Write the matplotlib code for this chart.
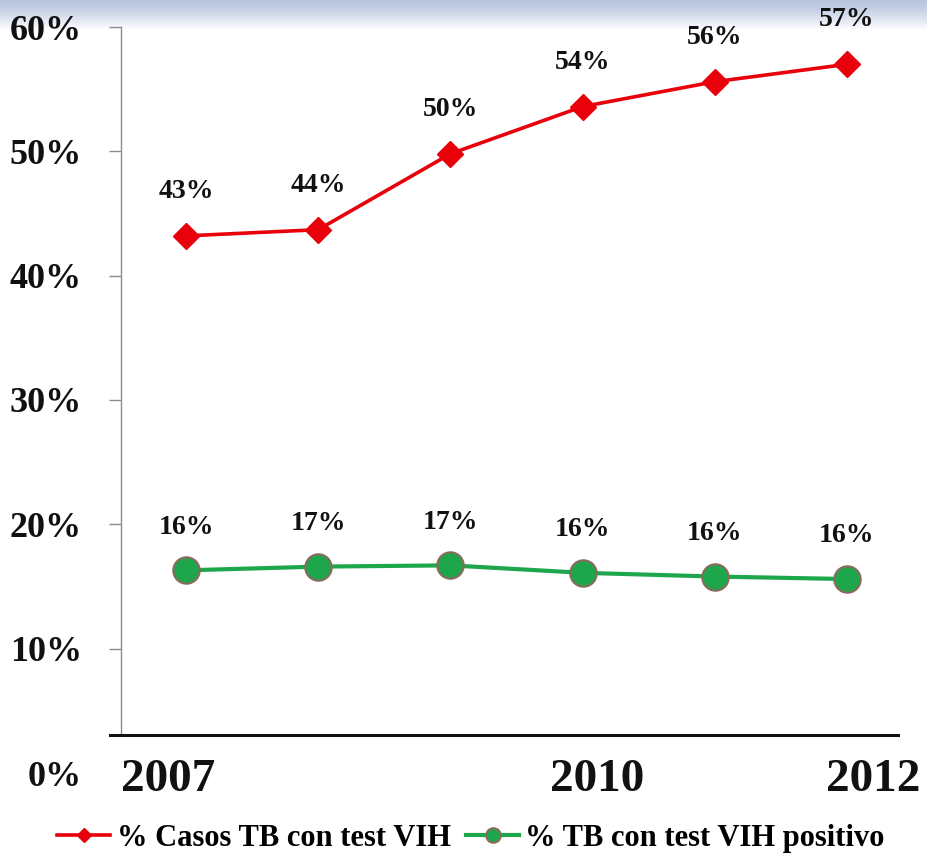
import numpy as np
import matplotlib.pyplot as plt
from matplotlib.transforms import ScaledTranslation

years = [2007, 2008, 2009, 2010, 2011, 2012]
year_labels = ['2007', '', '', '2010', '', '2012']
casos_test = [43.2, 43.7, 49.8, 53.6, 55.6, 57.0]      # % Casos TB con test VIH
test_positivo = [16.3, 16.6, 16.7, 16.1, 15.8, 15.6]   # % TB con test VIH positivo
y_ticks = [0, 10, 20, 30, 40, 50, 60]

plt.rcParams['font.family'] = ['Liberation Serif', 'DejaVu Serif']
plt.rcParams['font.weight'] = 'bold'

W, H = 927, 855
fig = plt.figure(figsize=(W / 100, H / 100), dpi=100)

# light blue band at the top of the slide
bg = fig.add_axes([0, 1 - 30 / H, 1, 30 / H], zorder=0)
grad = np.linspace(0, 1, 64).reshape(-1, 1)
top_col = np.array([0.72, 0.77, 0.87])
img = top_col + (1 - top_col) * grad[..., None] ** 1.3
bg.imshow(np.repeat(img, 2, axis=1), aspect='auto', extent=[0, 1, 0, 1])
bg.axis('off')

ax = fig.add_axes([110 / W, 1 - 773 / H, 788 / W, (773 - 27) / H], zorder=1)
ax.patch.set_visible(False)

red = '#e8000b'
green = '#1ea64c'
ax.plot(years, casos_test, color=red, lw=2.6, marker='D', ms=13.5,
        mfc=red, mec=red, label='% Casos TB con test VIH', zorder=3)
ax.plot(years, test_positivo, color=green, lw=3, marker='o', ms=19,
        mfc=green, mec='#8a6a5c', mew=1.5, label='% TB con test VIH positivo', zorder=3)

for x, v in zip(years, casos_test):
    ax.annotate(f'{v:.0f}%', (x, v), xytext=(0, 32), textcoords='offset points',
                ha='center', va='center', fontsize=20, color='#111111')
for x, v in zip(years, test_positivo):
    ax.annotate(f'{v:.0f}%', (x, v), xytext=(0, 31), textcoords='offset points',
                ha='center', va='center', fontsize=20, color='#111111')

ax.set_xlim(2006.425, 2012.386)
ax.set_ylim(0, 60)

for s in ['top', 'right']:
    ax.spines[s].set_visible(False)
ax.spines['left'].set_position(('axes', 11 / 788))
ax.spines['left'].set_bounds(3.05, 60)
ax.spines['left'].set_color('#8c8c8c')
ax.spines['left'].set_linewidth(1.0)
ax.spines['bottom'].set_position(('data', 3.05))
ax.spines['bottom'].set_linewidth(2.2)
ax.spines['bottom'].set_color('#111111')

ax.set_yticks(y_ticks)
ax.set_yticklabels([f'{t}%' for t in y_ticks])
ax.tick_params(axis='y', length=9, width=1, color='#8c8c8c', pad=19,
               labelsize=26, labelcolor='#111111')
ax.yaxis.get_major_ticks()[0].tick1line.set_visible(False)

ax.set_xticks(years)
ax.set_xticklabels(year_labels)
ax.tick_params(axis='x', length=0, pad=17, labelsize=34, labelcolor='#111111')
# the year labels sit slightly off their points in the original slide
shifts = [-18, 0, 0, 15, 0, 26]
for lab, dx in zip(ax.get_xticklabels(), shifts):
    lab.set_transform(lab.get_transform() + ScaledTranslation(dx / 100, 0, fig.dpi_scale_trans))

fig.legend(loc='center', bbox_to_anchor=(0.508, 1 - 838 / H), ncol=2, frameon=False,
           fontsize=22, handlelength=1.75, columnspacing=0.5, handletextpad=0.2,
           markerscale=0.55)

fig.savefig('out.png', dpi=100)
